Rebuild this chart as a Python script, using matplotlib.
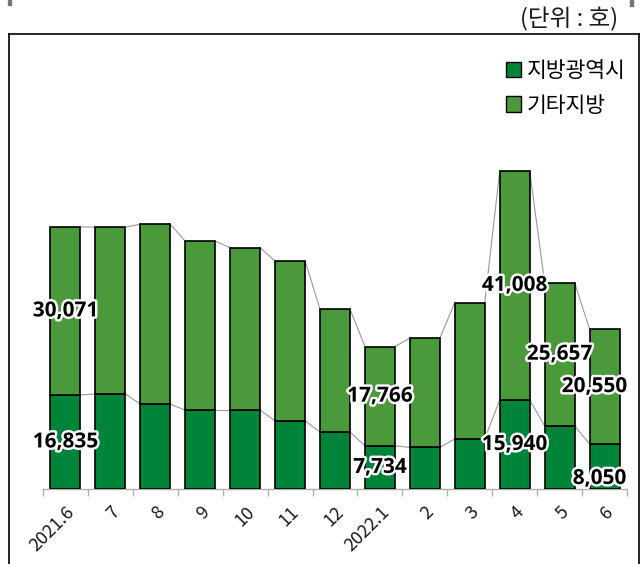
import matplotlib
matplotlib.use("Agg")
import matplotlib.pyplot as plt
import matplotlib.patheffects as pe
from matplotlib.lines import Line2D
from matplotlib.patches import Rectangle, Patch
import numpy as np

plt.rcParams['font.family'] = ['Noto Sans CJK KR', 'DejaVu Sans']

categories = ["2021.6", "7", "8", "9", "10", "11", "12", "2022.1", "2", "3", "4", "5", "6"]
metro = [16835, 17000, 15200, 14100, 14100, 12200, 10200, 7734, 7450, 8950, 15940, 11300, 8050]
other = [30071, 29850, 32200, 30250, 29100, 28600, 22000, 17766, 19550, 24400, 41008, 25657, 20550]
series_names = ["지방광역시", "기타지방"]
unit_text = "(단위 : 호)"

# labels to show: (series, index, dx_px, dy_px)
label_spec = [
    ("metro", 0, 0, 0), ("other", 0, 0, 0),
    ("metro", 7, 0, 0), ("other", 7, 0, 0),
    ("metro", 10, 0, 0), ("other", 10, 0, 0),
    ("other", 11, 0, 0),
    ("metro", 12, -5, -12), ("other", 12, -10, 0),
]

W, H = 641, 564
fig = plt.figure(figsize=(W / 100, H / 100), dpi=100)

def fx(px):
    return px / W

def fy(py):
    return 1 - py / H

ax_left, ax_right, ax_bottom, ax_top = 43, 627, 489, 42
ax = fig.add_axes([fx(ax_left), fy(ax_bottom), fx(ax_right - ax_left), (ax_bottom - ax_top) / H])

c_metro = "#00843A"
c_other = "#4A9A3B"
x = np.arange(len(categories))
bw = 0.667
metro_a = np.array(metro)
other_a = np.array(other)

ax.bar(x, metro_a, width=bw, color=c_metro, edgecolor="black", linewidth=1.2, zorder=3, label=series_names[0])
ax.bar(x, other_a, width=bw, bottom=metro_a, color=c_other, edgecolor="black", linewidth=1.2, zorder=3, label=series_names[1])

# connector lines
for levels in (metro_a, metro_a + other_a):
    for i in range(len(x) - 1):
        ax.plot([x[i] + bw / 2, x[i + 1] - bw / 2], [levels[i], levels[i + 1]],
                color="#9a9a9a", linewidth=0.8, zorder=2)

ax.set_xlim(-0.5, len(x) - 0.5)
ax.set_ylim(0, 80000)
for s in ("left", "right", "top"):
    ax.spines[s].set_visible(False)
ax.spines["bottom"].set_color("#b0b0b0")
ax.spines["bottom"].set_linewidth(1.0)
ax.set_yticks([])
ax.set_xticks(np.arange(len(x) + 1) - 0.5, minor=False)
ax.set_xticklabels([])
ax.tick_params(axis="x", which="major", length=5, color="#b0b0b0", width=1.0)
ax.set_xticks(x, minor=True)
ax.set_xticklabels(categories, minor=True, rotation=45, ha="right", va="top",
                   rotation_mode="anchor", fontsize=13, color="#1a1a1a")
ax.tick_params(axis="x", which="minor", length=0, pad=10)

stroke = [pe.withStroke(linewidth=3.5, foreground="white")]
for ser, i, dx, dy in label_spec:
    if ser == "metro":
        yv = metro_a[i] / 2
        val = metro_a[i]
    else:
        yv = metro_a[i] + other_a[i] / 2
        val = other_a[i]
    ax.annotate(f"{val:,}", (x[i], yv), xytext=(dx, dy), textcoords="offset pixels",
                ha="center", va="center", fontsize=15, fontweight="bold",
                family=["Open Sans", "DejaVu Sans"], color="black",
                path_effects=stroke, zorder=5)

handles = [Patch(facecolor=c_metro, edgecolor="black", linewidth=1.0),
           Patch(facecolor=c_other, edgecolor="black", linewidth=1.0)]
leg = fig.legend(handles, series_names, loc="upper right",
                 bbox_to_anchor=(fx(634), fy(51)), frameon=False, fontsize=15.5,
                 handlelength=0.7, handleheight=0.7, handletextpad=0.25,
                 labelspacing=0.6, borderaxespad=0)

# outer frame
fig.add_artist(Line2D([fx(9), fx(9)], [fy(34), fy(570)], color="black", linewidth=1.2))
fig.add_artist(Line2D([fx(9), fx(639)], [fy(34), fy(34)], color="black", linewidth=1.2))
fig.add_artist(Line2D([fx(639), fx(639)], [fy(34), fy(570)], color="black", linewidth=1.2))
fig.add_artist(Rectangle((fx(8), fy(5)), fx(3), 5 / H, color="#777777"))
fig.add_artist(Rectangle((fx(630), fy(6)), fx(3), 6 / H, color="#777777"))

fig.text(fx(618), fy(19), unit_text, ha="right", va="center", fontsize=17, color="#1a1a1a")

fig.savefig("out.png", dpi=100)
